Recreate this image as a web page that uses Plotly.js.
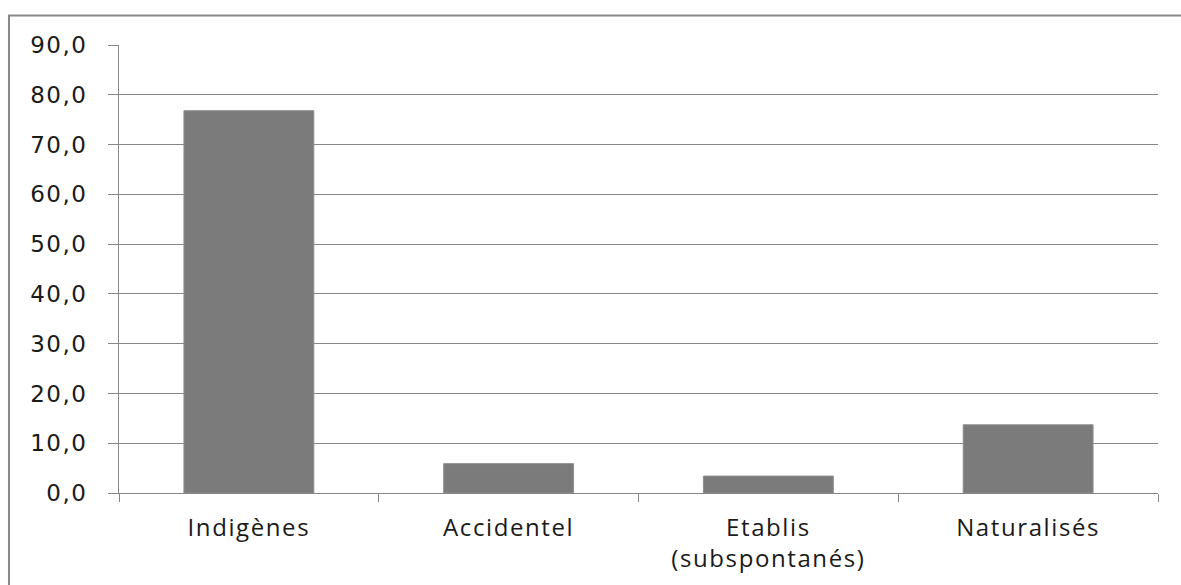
<!DOCTYPE html>
<html>
<head>
<meta charset="utf-8">
<script src="https://cdn.plot.ly/plotly-3.0.1.min.js"></script>
<style>
html,body{margin:0;padding:0;background:#fff;}
#chart{width:1181px;height:585px;}
#chart .xtick text{letter-spacing:1.6px;}
#chart .ytick text{letter-spacing:1.5px;}
</style>
</head>
<body>
<div id="chart"></div>
<script>
const categories = ["Indigènes", "Accidentel", "Etablis<br>(subspontanés)", "Naturalisés"];
const values = [76.8, 5.9, 3.4, 13.7];
const yTicks = [0, 10, 20, 30, 40, 50, 60, 70, 80, 90];

const trace = {
  type: "bar",
  x: categories,
  y: values,
  marker: {color: "#7b7b7b", line: {color: "#8e8e8e", width: 1}},
  hoverinfo: "none"
};

const layout = {
  width: 1181,
  height: 585,
  margin: {l: 119, r: 23, t: 45, b: 92},
  paper_bgcolor: "#ffffff",
  plot_bgcolor: "#ffffff",
  separators: ", ",
  bargap: 0.5,
  showlegend: false,
  xaxis: {
    type: "category",
    tickson: "boundaries",
    ticks: "outside",
    ticklen: 8,
    tickcolor: "#868686",
    tickwidth: 1,
    showline: true,
    linecolor: "#868686",
    linewidth: 1,
    showgrid: false,
    tickfont: {family: "'Open Sans', Lato, sans-serif", size: 24, color: "#1a1a1a"},
    ticklabelstandoff: 13
  },
  yaxis: {
    range: [0, 90],
    tickvals: yTicks,
    tickformat: ".1f",
    ticks: "outside",
    ticklen: 10,
    tickcolor: "#868686",
    tickwidth: 1,
    showline: true,
    linecolor: "#868686",
    linewidth: 1,
    showgrid: true,
    gridcolor: "#868686",
    gridwidth: 1,
    zeroline: false,
    tickfont: {family: "'DejaVu Sans', Verdana, sans-serif", size: 23, color: "#1a1a1a"},
    ticklabelstandoff: 16
  },
  shapes: [{
    type: "rect",
    xref: "paper", yref: "paper",
    x0: -0.1059, x1: 1.3,
    y0: -0.5, y1: 1.0658,
    line: {color: "#888888", width: 2},
    fillcolor: "rgba(0,0,0,0)",
    layer: "below"
  }]
};

Plotly.newPlot("chart", [trace], layout, {staticPlot: true, displayModeBar: false});
</script>
</body>
</html>
